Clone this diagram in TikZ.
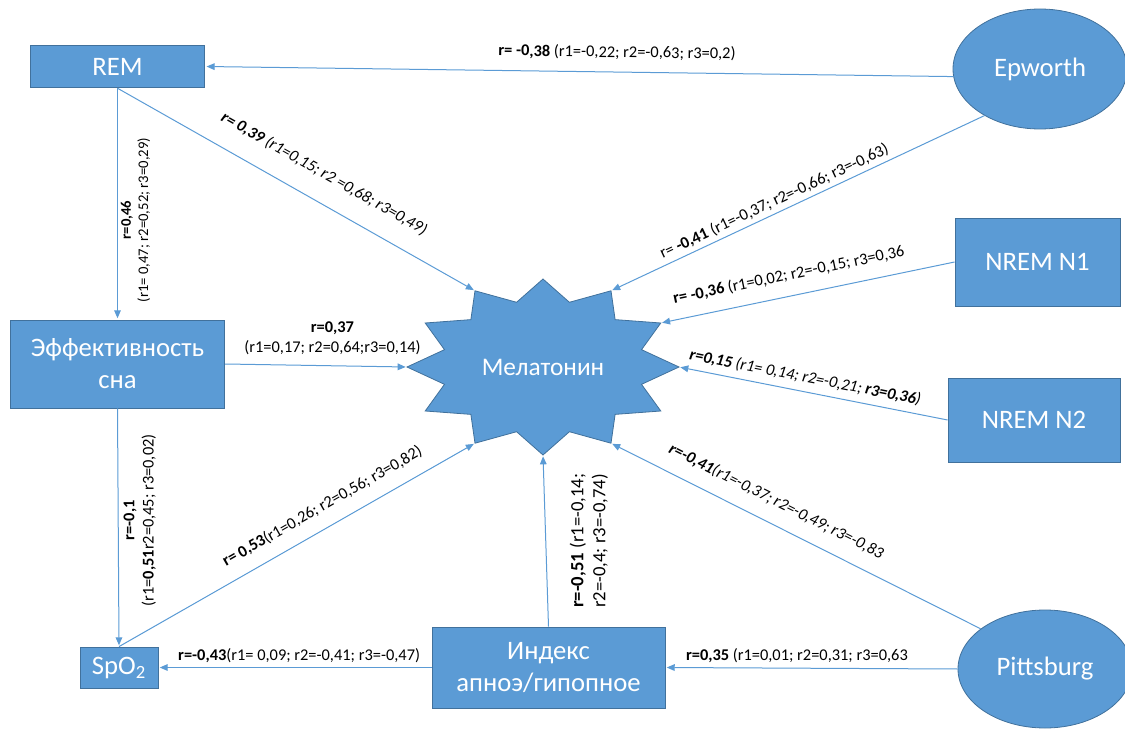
\documentclass[tikz,border=0pt]{standalone}
\usepackage{fontspec}
\setmainfont{Carlito}
\usetikzlibrary{arrows.meta,shapes.geometric,positioning}
\definecolor{melblue}{HTML}{5B9BD5}
\definecolor{meledge}{HTML}{41719C}
\tikzset{
  box/.style={rectangle, fill=melblue, draw=meledge, line width=0.6pt, text=white,
    font=\fontsize{20}{24}\selectfont, align=center, inner sep=2pt},
  oval/.style={ellipse, fill=melblue, draw=meledge, line width=0.6pt, text=white,
    font=\fontsize{20}{24}\selectfont, inner sep=0pt},
  lbl/.style={font=\fontsize{12.3}{14.5}\selectfont, text=black, inner sep=1pt},
  small/.style={font=\fontsize{11}{13}\selectfont},
  slant/.style={font=\fontsize{12.3}{14.5}\selectfont\itshape},
  uplbl/.style={lbl, rotate=90, anchor=north},
  every edge/.append style={draw=melblue, line width=0.75pt},
}

\begin{document}
\begin{tikzpicture}[x=0.75pt,y=-0.75pt,shorten >=1pt,>={Triangle[length=6pt,width=5pt]}]
\useasboundingbox (0,0) rectangle (1125,731);

% star
\filldraw[fill=melblue, draw=meledge, line width=0.6pt] (679,367)
  \foreach \a in {15,30,...,345} {
    -- ({543+ifthenelse(mod(\a,30)==0,136,102)*cos(\a)}, {367-ifthenelse(mod(\a,30)==0,88,67)*sin(\a)})
  } -- cycle;
\foreach \i in {0,...,11}
  \coordinate (m\i) at ({543+136*cos(30*\i)}, {367-88*sin(30*\i)});
\node[text=white, font=\fontsize{19}{23}\selectfont] (mel) at (543,367) {Мелатонин};

% boxes
\node[box, minimum width=131pt, minimum height=32pt] (rem) at (117.5,66.5) {REM};
\node[box, minimum width=161pt, minimum height=66pt] (eff) at (117.5,364) {Эффективность\\сна};
\node[box, minimum width=58.5pt, minimum height=30.75pt] (spo) at (119,667.5) {SpO\textsubscript{2}};
\node[box, minimum width=174.75pt, minimum height=60.75pt] (idx) at (548.5,667.5) {Индекс\\апноэ/гипопное};
\node[box, minimum width=123.75pt, minimum height=66pt] (n_1) at (1037.5,262) {NREM N1};
\node[box, minimum width=129pt, minimum height=63pt] (n_2) at (1034,420) {NREM N2};
\node[oval, minimum width=130.5pt, minimum height=90pt] (ep) at (1040,69) {Epworth};
\node[oval, minimum width=130.5pt, minimum height=88.5pt] (pit) at (1045,669) {Pittsburg};

\path[->]
  (ep.185) edge node[lbl, pos=.45, above=8pt, sloped] {\textbf{r= -0,38} (r1=-0,22; r2=-0,63; r3=0,2)} (rem.east)
  (rem.south) edge node[lbl, slant, pos=.54, above=14pt, sloped] {\textbf{r= 0,39} (r1=0,15; r2 =0,68; r3=0,49)} (m4)
  (rem.south) edge node[uplbl, small, pos=.57, outer sep=1.5pt, align=center] {\textbf{r=0,46}\\(r1= 0,47; r2=0,52; r3=0,29)} (eff.north)
  (eff.east) edge node[lbl, pos=.59, above=7pt, align=center] {\textbf{r=0,37}\\(r1=0,17; r2=0,64;r3=0,14)} (m6)
  (eff.south) edge node[uplbl, pos=.47, outer sep=3pt, align=center] {\textbf{r=-0,1}\\(r1=\textbf{0,51}r2=0,45; r3=0,02)} (spo.north)
  (spo.north) edge node[lbl, pos=.6, above=9pt, sloped] {\textbf{r= 0,53}(r1=0,26; r2=0,56; r3=0,82)} (m8)
  (idx.north) edge node[uplbl, font=\fontsize{14}{16.5}\selectfont, pos=.5, outer sep=17pt, align=left] {\textbf{r=-0,51} (r1=-0,14;\\r2=-0,4; r3=-0,74)} (m9)
  (idx.west) edge node[lbl, pos=.485, above=2pt] {\textbf{r=-0,43}(r1= 0,09; r2=-0,41; r3=-0,47)} (spo.east)
  (pit.west) edge node[lbl, pos=.55, above=3pt] {\textbf{r=0,35} (r1=0,01; r2=0,31; r3=0,63} (idx.east)
  (pit.148) edge node[lbl, slant, pos=.58, above=10pt, sloped] {\textbf{r=-0,41}(r1=-0,37; r2=-0,49; r3=-0,83} (m10)
  (n_2.west) edge node[lbl, slant, pos=.54, above=4pt, sloped] {\textbf{r=0,15} (r1= 0,14; r2=-0,21; \textbf{r3=0,36})} (m0)
  (n_1.west) edge node[lbl, pos=.55, above=9pt, sloped] {\textbf{r= -0,36} (r1=0,02; r2=-0,15; r3=0,36} (m1)
  (ep.220) edge node[lbl, pos=.55, above=2pt, sloped] {r= \textbf{-0,41} (r1=-0,37; r2=-0,66; r3=-0,63)} (m2)
  ;
\end{tikzpicture}
\end{document}
